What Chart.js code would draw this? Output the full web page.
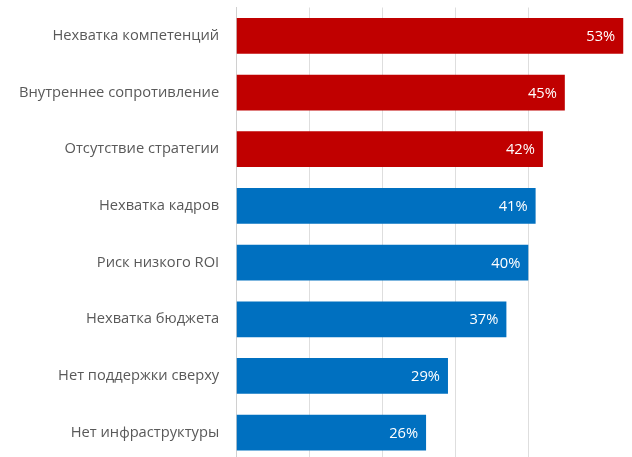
<!DOCTYPE html>
<html>
<head>
<meta charset="utf-8">
<script src="https://cdn.jsdelivr.net/npm/chart.js@4/dist/chart.umd.min.js"></script>
<style>
  html, body { margin: 0; padding: 0; background: #fff; overflow: hidden; }
  #wrap { position: relative; width: 632px; height: 461px; }
</style>
</head>
<body>
<div id="wrap"><canvas id="chart"></canvas></div>
<script>
// data
const categories = [
  'Нехватка компетенций',
  'Внутреннее сопротивление',
  'Отсутствие стратегии',
  'Нехватка кадров',
  'Риск низкого ROI',
  'Нехватка бюджета',
  'Нет поддержки сверху',
  'Нет инфраструктуры'
];
const values = [53, 45, 42, 41, 40, 37, 29, 26];
const highlighted = [true, true, true, false, false, false, false, false];

const RED = '#C00000';
const BLUE = '#0070C0';
const FONT = "'Open Sans', 'Noto Sans', sans-serif";

// white value labels inside the end of each bar
const valueLabels = {
  id: 'valueLabels',
  afterDatasetsDraw(chart) {
    const ctx = chart.ctx;
    const meta = chart.getDatasetMeta(0);
    ctx.save();
    ctx.fillStyle = '#ffffff';
    ctx.font = '14.7px ' + FONT;
    ctx.textAlign = 'right';
    ctx.textBaseline = 'middle';
    meta.data.forEach((bar, i) => {
      ctx.fillText(values[i] + '%', bar.x - 8, bar.y + 1);
    });
    ctx.restore();
  }
};

new Chart(document.getElementById('chart'), {
  type: 'bar',
  data: {
    labels: categories,
    datasets: [{
      data: values,
      backgroundColor: highlighted.map(h => h ? RED : BLUE),
      barPercentage: 0.63,
      categoryPercentage: 1
    }]
  },
  options: {
    indexAxis: 'y',
    responsive: true,
    maintainAspectRatio: false,
    animation: false,
    layout: { padding: { top: 7.5, right: 0, bottom: 0, left: 2 } },
    plugins: { legend: { display: false }, tooltip: { enabled: false } },
    scales: {
      x: {
        min: 0,
        max: 54.2,
        afterBuildTicks: axis => { axis.ticks = axis.ticks.filter(t => t.value % 10 === 0); },
        ticks: { display: false, stepSize: 10 },
        grid: { color: '#dedede', lineWidth: 1, drawTicks: false },
        border: { display: false }
      },
      y: {
        // labels sit inside their bands, so no extra room above/below is needed
        afterFit: axis => { axis.paddingTop = 0; axis.paddingBottom = 0; },
        ticks: { color: '#595959', font: { family: FONT, size: 14.7 }, padding: 17 },
        grid: { display: false, drawTicks: false },
        border: { display: true, color: '#d0d0d0' }
      }
    }
  },
  plugins: [valueLabels]
});
</script>
</body>
</html>
